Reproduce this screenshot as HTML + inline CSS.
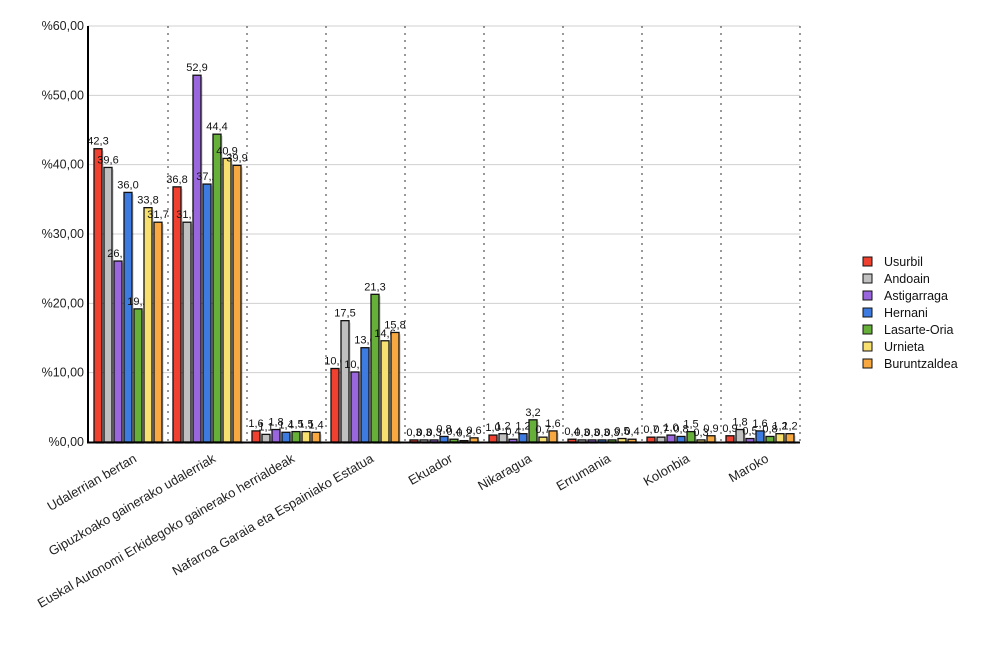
<!DOCTYPE html>
<html><head><meta charset="utf-8"><style>
body{margin:0;background:#fff;width:1000px;height:650px;overflow:hidden}
text{font-family:"Liberation Sans",sans-serif}
</style></head><body>
<svg id="s" width="1000" height="650" xmlns="http://www.w3.org/2000/svg"></svg>
<script>
const s=document.getElementById('s');let h='';
const y0=442,k=416/60,x0=89,gw=79;
for(let i=0;i<=6;i++){const y=y0-i*10*k;
 if(i>0)h+=`<line x1="88" x2="800" y1="${y}" y2="${y}" stroke="#d0d0d0" stroke-width="1"/>`;
 h+=`<text x="84" y="${y+4}" font-size="12.5" text-anchor="end" fill="#222">%${i*10},00</text>`;}
for(let g=1;g<=9;g++){const x=x0+g*gw;h+=`<line x1="${x}" x2="${x}" y1="26" y2="442" stroke="#333" stroke-dasharray="2,5"/>`;}
const cols=['#f04030','#c0c0c0','#9966dd','#3d7be0','#66b03a','#f8e070','#f8a840'];
const names=['Usurbil','Andoain','Astigarraga','Hernani','Lasarte-Oria','Urnieta','Buruntzaldea'];
const cats=['Udalerrian bertan','Gipuzkoako gainerako udalerriak','Euskal Autonomi Erkidegoko gainerako herrialdeak','Nafarroa Garaia eta Espainiako Estatua','Ekuador','Nikaragua','Errumania','Kolonbia','Maroko'];
const d=[[42.3,39.6,26.1,36.0,19.2,33.8,31.7],[36.8,31.7,52.9,37.2,44.4,40.9,39.9],[1.6,1.1,1.8,1.4,1.5,1.5,1.4],[10.6,17.5,10.1,13.6,21.3,14.6,15.8],[0.3,0.3,0.3,0.8,0.4,0.2,0.6],[1.0,1.2,0.4,1.2,3.2,0.7,1.6],[0.4,0.3,0.3,0.3,0.3,0.5,0.4],[0.7,0.7,1.0,0.8,1.5,0.3,0.9],[0.9,1.8,0.5,1.6,0.8,1.2,1.2]];
d.forEach((r,g)=>{r.forEach((v,i)=>{const x=x0+g*gw+5+i*10,hh=v*k,y=y0-hh;
 h+=`<rect x="${x+2}" y="${y+2}" width="8" height="${hh}" fill="#000" opacity="0.12"/>`;
 h+=`<rect x="${x}" y="${y}" width="8" height="${hh}" fill="${cols[i]}" stroke="#111" stroke-width="1.3"/>`;
 h+=`<text x="${x+4}" y="${y-4}" font-size="11" text-anchor="middle" fill="#111">${v.toFixed(1).replace('.',',')}</text>`;});
 const cx=x0+g*gw+gw/2+9;
 h+=`<text transform="translate(${cx},461) rotate(-30)" font-size="13" text-anchor="end" fill="#222">${cats[g]}</text>`;});
h+=`<line x1="88" x2="88" y1="26" y2="443" stroke="#000" stroke-width="2"/><line x1="87" x2="800" y1="442.5" y2="442.5" stroke="#000" stroke-width="2"/>`;
names.forEach((n,i)=>{const y=257+i*17;h+=`<rect x="863" y="${y}" width="9" height="9" fill="${cols[i]}" stroke="#111"/><text x="884" y="${y+9}" font-size="12.5" fill="#111">${n}</text>`;});
s.innerHTML=h;
</script>
</body></html>
